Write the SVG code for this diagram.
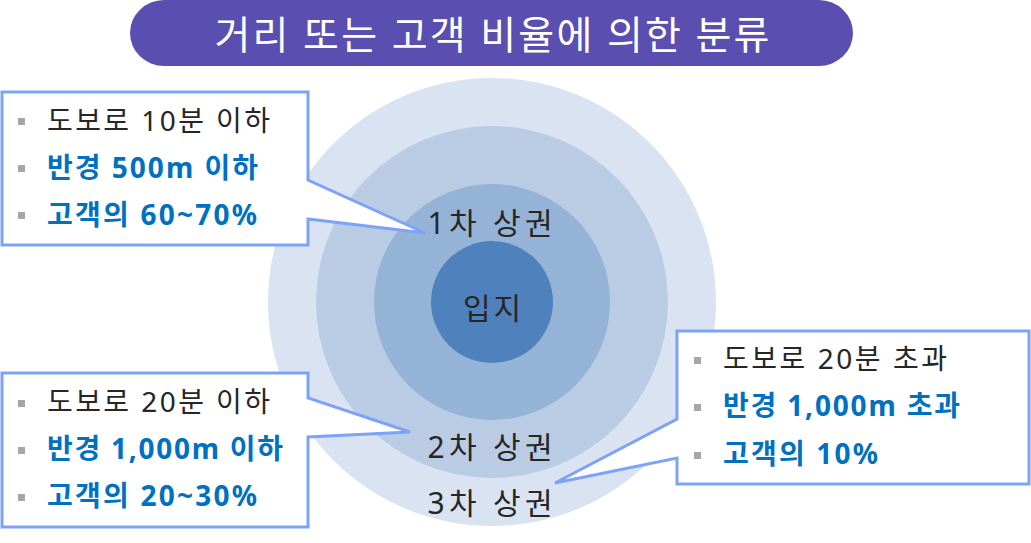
<svg xmlns="http://www.w3.org/2000/svg" width="1031" height="543" viewBox="0 0 1031 543">
<style>
text{font-family:"Noto Sans","Noto Sans CJK KR",sans-serif;}
.call{fill:#FFFFFF;stroke:#7DA3F7;stroke-width:3;stroke-linejoin:miter;}
.n{font-size:28px;fill:#262626;}
.b{font-size:28px;font-weight:bold;fill:#0070C0;}
.lbl{font-size:30px;fill:#262626;text-anchor:middle;}
.blt{fill:#A6A6A6;}
</style>
<rect width="1031" height="543" fill="#FFFFFF"/>
<g id="title">
<rect x="130" y="0" width="723" height="66" rx="34" ry="33" fill="#5A4FB0"/>
<text x="492" y="49" font-size="39" fill="#FFFFFF" text-anchor="middle" textLength="555" lengthAdjust="spacing">거리 또는 고객 비율에 의한 분류</text>
</g>
<g id="rings">
<circle id="ring3" cx="492" cy="302" r="224" fill="#DAE3F1"/>
<circle id="ring2" cx="492" cy="302" r="176" fill="#B9CCE4"/>
<circle id="ring1" cx="492" cy="302" r="118" fill="#95B3D7"/>
<circle id="site" cx="492" cy="302" r="61" fill="#4F81BD"/>
<text class="lbl" x="490" y="234" textLength="125" lengthAdjust="spacing">1차 상권</text>
<text class="lbl" x="492" y="319" font-size="32" textLength="58" lengthAdjust="spacing">입지</text>
<text class="lbl" x="490" y="458" textLength="125" lengthAdjust="spacing">2차 상권</text>
<text class="lbl" x="490" y="514" textLength="125" lengthAdjust="spacing">3차 상권</text>
</g>
<g id="connectors">
<path id="callout1-shape" class="call" d="M2,92 H308 V180 L425,233 L308,219 V245 H2 Z"/>
<path id="callout2-shape" class="call" d="M2,373 H308 V398 L410,432 L308,437 V527 H2 Z"/>
<path id="callout3-shape" class="call" d="M677,331 H1029 V484 H677 V458 L555,483 L677,419 Z"/>
</g>
<g id="callout1">
<rect class="blt" x="18" y="118" width="7" height="7"/>
<rect class="blt" x="18" y="165" width="7" height="7"/>
<rect class="blt" x="18" y="212" width="7" height="7"/>
<text class="n" x="47" y="131" textLength="223" lengthAdjust="spacing">도보로 10분 이하</text>
<text class="b" x="47" y="178" textLength="211" lengthAdjust="spacing">반경 500m 이하</text>
<text class="b" x="47" y="225" textLength="210" lengthAdjust="spacing">고객의 60~70%</text>
</g>
<g id="callout2">
<rect class="blt" x="18" y="400" width="7" height="7"/>
<rect class="blt" x="18" y="447" width="7" height="7"/>
<rect class="blt" x="18" y="494" width="7" height="7"/>
<text class="n" x="47" y="412" textLength="223" lengthAdjust="spacing">도보로 20분 이하</text>
<text class="b" x="47" y="459" textLength="236" lengthAdjust="spacing">반경 1,000m 이하</text>
<text class="b" x="47" y="506" textLength="210" lengthAdjust="spacing">고객의 20~30%</text>
</g>
<g id="callout3">
<rect class="blt" x="694" y="357" width="7" height="7"/>
<rect class="blt" x="694" y="404" width="7" height="7"/>
<rect class="blt" x="694" y="452" width="7" height="7"/>
<text class="n" x="723" y="369" textLength="224" lengthAdjust="spacing">도보로 20분 초과</text>
<text class="b" x="723" y="416" textLength="237" lengthAdjust="spacing">반경 1,000m 초과</text>
<text class="b" x="723" y="464" textLength="155" lengthAdjust="spacing">고객의 10%</text>
</g>
</svg>
